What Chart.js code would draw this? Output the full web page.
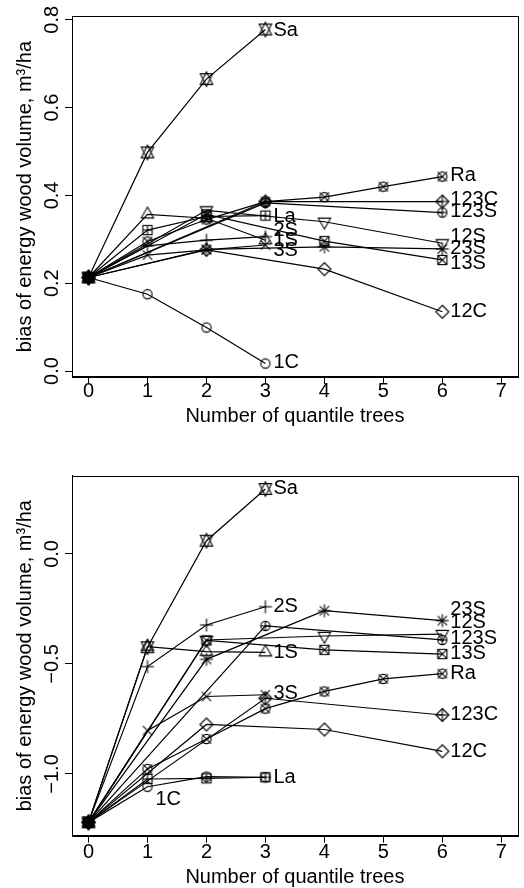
<!DOCTYPE html>
<html>
<head>
<meta charset="utf-8">
<script src="https://cdn.jsdelivr.net/npm/chart.js@4"></script>
<style>
  body { margin: 0; background: #fff; }
  .panel { width: 524px; height: 444px; }
</style>
</head>
<body>
<div class="panel"><canvas id="chartTop" width="524" height="444"></canvas></div>
<div class="panel"><canvas id="chartBottom" width="524" height="444"></canvas></div>
<script>
// x positions (number of quantile trees) for each group of methods
var xSingle = [0, 1, 2, 3];
var xPair = [0, 2, 4, 6];
var xTriple = [0, 3, 6];
var xRandom = [0, 1, 2, 3, 4, 5, 6];

// methods in R pch order (pch 1..13)
var methods = ["1C", "1S", "2S", "3S", "12C", "12S", "13S", "23S", "123C", "123S", "Sa", "La", "Ra"];
var methodX = [xSingle, xSingle, xSingle, xSingle, xPair, xPair, xPair, xPair, xTriple, xTriple, xSingle, xSingle, xRandom];

// upper panel
var top1C = [0.213, 0.175, 0.099, 0.017];
var top1S = [0.213, 0.357, 0.348, 0.298];
var top2S = [0.213, 0.285, 0.298, 0.306];
var top3S = [0.213, 0.264, 0.276, 0.287];
var top12C = [0.213, 0.276, 0.232, 0.135];
var top12S = [0.213, 0.366, 0.340, 0.291];
var top13S = [0.213, 0.357, 0.296, 0.253];
var top23S = [0.213, 0.277, 0.283, 0.278];
var top123C = [0.213, 0.386, 0.386];
var top123S = [0.213, 0.383, 0.361];
var topSa = [0.213, 0.498, 0.665, 0.778];
var topLa = [0.213, 0.321, 0.352, 0.354];
var topRa = [0.213, 0.295, 0.345, 0.386, 0.396, 0.420, 0.443];

// lower panel
var bot1C = [-1.22, -1.058, -1.012, -1.015];
var bot1S = [-1.22, -0.421, -0.444, -0.447];
var bot2S = [-1.22, -0.512, -0.323, -0.240];
var bot3S = [-1.22, -0.803, -0.648, -0.640];
var bot12C = [-1.22, -0.775, -0.798, -0.897];
var bot12S = [-1.22, -0.391, -0.373, -0.364];
var bot13S = [-1.22, -0.393, -0.436, -0.455];
var bot23S = [-1.22, -0.479, -0.258, -0.303];
var bot123C = [-1.22, -0.656, -0.732];
var bot123S = [-1.22, -0.327, -0.391];
var botSa = [-1.22, -0.424, 0.060, 0.295];
var botLa = [-1.22, -1.023, -1.020, -1.015];
var botRa = [-1.22, -0.977, -0.841, -0.703, -0.625, -0.568, -0.544];

var xTicks = [0, 1, 2, 3, 4, 5, 6, 7];
var topYTicks = [0, 0.2, 0.4, 0.6, 0.8];
var topYLabels = ["0.0", "0.2", "0.4", "0.6", "0.8"];
var botYTicks = [-1.0, -0.5, 0.0];
var botYLabels = ["\u22121.0", "\u22120.5", "0.0"];

// where the method names are written (data coords)
var topLabelAt = {
  "Sa": [3, 0.776], "Ra": [6, 0.445], "123C": [6, 0.391], "123S": [6, 0.363],
  "La": [3, 0.351], "2S": [3, 0.321], "1S": [3, 0.298], "3S": [3, 0.274],
  "12S": [6, 0.306], "23S": [6, 0.280], "13S": [6, 0.245], "12C": [6, 0.135], "1C": [3, 0.019]
};
var botLabelAt = {
  "Sa": [3, 0.298], "2S": [3, -0.238], "1S": [3, -0.450], "3S": [3, -0.633],
  "La": [3, -1.015], "1C": [1, -1.114], "23S": [6, -0.253], "12S": [6, -0.310],
  "123S": [6, -0.386], "13S": [6, -0.452], "Ra": [6, -0.542], "123C": [6, -0.730], "12C": [6, -0.897]
};

var FONT = "'Liberation Sans', Arial, Helvetica, sans-serif";
Chart.defaults.font.family = FONT;
Chart.defaults.color = "#000";

// R style plotting symbols
function makeSymbol(pch) {
  var c = document.createElement("canvas");
  c.width = 22; c.height = 22;
  var g = c.getContext("2d");
  var cx = 11, cy = 11, r = 4.6;
  g.strokeStyle = "#000";
  g.lineWidth = 1.1;
  function line(x1, y1, x2, y2) {
    g.beginPath(); g.moveTo(cx + x1, cy + y1); g.lineTo(cx + x2, cy + y2); g.stroke();
  }
  function circle(rad) {
    g.beginPath(); g.arc(cx, cy, rad, 0, 2 * Math.PI); g.stroke();
  }
  function poly(pts) {
    g.beginPath();
    pts.forEach(function (p, i) {
      if (i) g.lineTo(cx + p[0], cy + p[1]); else g.moveTo(cx + p[0], cy + p[1]);
    });
    g.closePath(); g.stroke();
  }
  var t0 = 1.5551 * r, t1 = 1.3468 * r, t2 = 0.7776 * r, s2 = Math.SQRT2 * r;
  var diamond = [[0, -s2], [s2, 0], [0, s2], [-s2, 0]];
  switch (pch) {
    case 1: circle(r); break;
    case 2: poly([[0, -t0], [t1, t2], [-t1, t2]]); break;
    case 3: line(-s2, 0, s2, 0); line(0, -s2, 0, s2); break;
    case 4: line(-r, -r, r, r); line(-r, r, r, -r); break;
    case 5: poly(diamond); break;
    case 6: poly([[0, t0], [t1, -t2], [-t1, -t2]]); break;
    case 7: g.strokeRect(cx - r, cy - r, 2 * r, 2 * r); line(-r, -r, r, r); line(-r, r, r, -r); break;
    case 8: line(-r, -r, r, r); line(-r, r, r, -r); line(-s2, 0, s2, 0); line(0, -s2, 0, s2); break;
    case 9: poly(diamond); line(-s2, 0, s2, 0); line(0, -s2, 0, s2); break;
    case 10: circle(r); line(-r, 0, r, 0); line(0, -r, 0, r); break;
    case 11:
      var yc = 0.5 * (t2 + t0);
      poly([[0, -t0], [t1, yc], [-t1, yc]]);
      poly([[0, t0], [t1, -yc], [-t1, -yc]]);
      break;
    case 12: g.strokeRect(cx - r, cy - r, 2 * r, 2 * r); line(-r, 0, r, 0); line(0, -r, 0, r); break;
    case 13: circle(r); line(-r, -r, r, r); line(-r, r, r, -r); break;
  }
  return c;
}
var symbols = methods.map(function (m, i) { return makeSymbol(i + 1); });

var boxPlugin = {
  id: "box",
  afterDraw: function (chart) {
    var a = chart.chartArea, ctx = chart.ctx;
    ctx.save();
    ctx.strokeStyle = "#000";
    ctx.lineWidth = 1;
    ctx.strokeRect(Math.round(a.left) + 0.5, Math.round(a.top) + 0.5,
      Math.round(a.right - a.left), Math.round(a.bottom - a.top));
    ctx.restore();
  }
};

var namePlugin = {
  id: "names",
  afterDatasetsDraw: function (chart, args, opts) {
    var ctx = chart.ctx, xs = chart.scales.x, ys = chart.scales.y;
    ctx.save();
    ctx.fillStyle = "#000";
    ctx.font = "20px " + FONT;
    ctx.textAlign = "left";
    ctx.textBaseline = "middle";
    Object.keys(opts.at).forEach(function (name) {
      var p = opts.at[name];
      ctx.fillText(name, xs.getPixelForValue(p[0]) + 8, ys.getPixelForValue(p[1]));
    });
    ctx.restore();
  }
};

function makeChart(id, values, labelAt, yTicks, yLabels, yMin, yMax, lay) {
  var datasets = methods.map(function (m, i) {
    return {
      label: m,
      data: methodX[i].map(function (x, j) { return { x: x, y: values[i][j] }; }),
      showLine: true,
      borderColor: "#000",
      borderWidth: 1.2,
      tension: 0,
      pointStyle: symbols[i],
      pointRadius: 5,
      pointHoverRadius: 5
    };
  });

  return new Chart(document.getElementById(id), {
    type: "scatter",
    data: { datasets: datasets },
    plugins: [boxPlugin, namePlugin],
    options: {
      responsive: false,
      animation: false,
      devicePixelRatio: 1,
      layout: { padding: { left: 0, right: lay.right, top: lay.top, bottom: 0 } },
      plugins: {
        legend: { display: false },
        tooltip: { enabled: false },
        names: { at: labelAt }
      },
      scales: {
        x: {
          type: "linear",
          min: -0.28,
          max: 7.28,
          afterBuildTicks: function (s) { s.ticks = xTicks.map(function (v) { return { value: v }; }); },
          afterFit: function (s) { s.height = lay.xh; },
          ticks: {
            autoSkip: false, maxRotation: 0, padding: lay.xpad,
            font: { size: 20 }, color: "#000",
            callback: function (v) { return String(v); }
          },
          grid: { display: true, drawOnChartArea: false, drawTicks: true, tickLength: 7, color: "#000" },
          border: { display: true, color: "#000" },
          title: {
            display: true, text: "Number of quantile trees", color: "#000",
            font: { size: 20, lineHeight: 1 }, padding: { top: 0, bottom: lay.xtp }
          }
        },
        y: {
          type: "linear",
          min: yMin,
          max: yMax,
          afterBuildTicks: function (s) { s.ticks = yTicks.map(function (v) { return { value: v }; }); },
          afterFit: function (s) { s.width = 72; },
          ticks: {
            autoSkip: false, minRotation: 90, maxRotation: 90, crossAlign: "center",
            padding: lay.ypad, font: { size: 20 }, color: "#000",
            callback: function (v) { return yLabels[yTicks.indexOf(v)]; }
          },
          grid: { display: true, drawOnChartArea: false, drawTicks: true, tickLength: 7, color: "#000" },
          border: { display: true, color: "#000" },
          title: {
            display: true, text: "bias of energy wood volume, m\u00b3/ha", color: "#000",
            font: { size: 20, lineHeight: 1 }, padding: { top: 15, bottom: 0 }
          }
        }
      }
    }
  });
}

makeChart("chartTop",
  [top1C, top1S, top2S, top3S, top12C, top12S, top13S, top23S, top123C, top123S, topSa, topLa, topRa],
  topLabelAt, topYTicks, topYLabels, -0.0134, 0.808,
  { top: 16.3, right: 3.4, xh: 67.1, xpad: -4.5, xtp: 17.3, ypad: -1.5 });

makeChart("chartBottom",
  [bot1C, bot1S, bot2S, bot3S, bot12C, bot12S, bot13S, bot23S, bot123C, bot123S, botSa, botLa, botRa],
  botLabelAt, botYTicks, botYLabels, -1.2806, 0.3556,
  { top: 31.7, right: 3, xh: 52.3, xpad: -2.3, xtp: 0.7, ypad: -7.4 });
</script>
</body>
</html>
